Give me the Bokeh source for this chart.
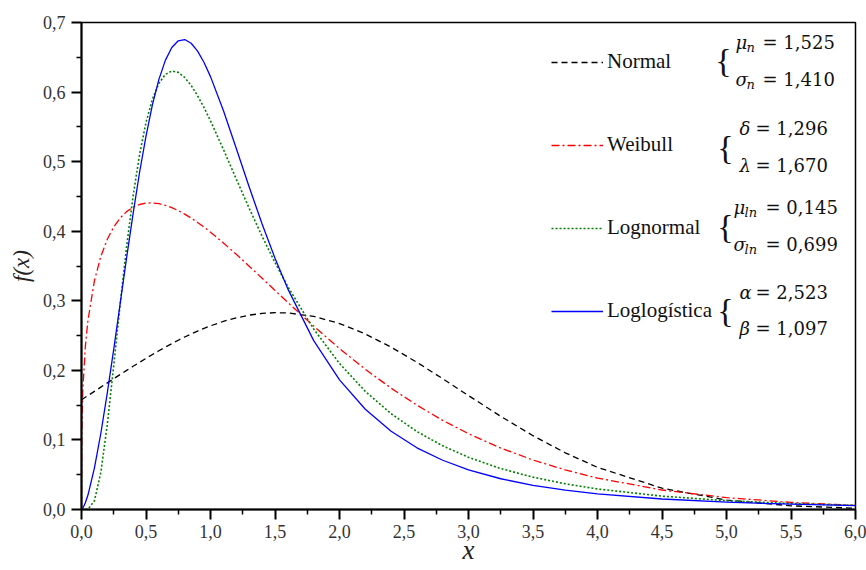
from bokeh.plotting import figure
from bokeh.models import Range1d, FixedTicker, Legend, LegendItem, Label
from bokeh.embed import file_html
from bokeh.resources import INLINE

# ---------------- data ----------------
x_vals = [0, 0.002, 0.01, 0.03, 0.05, 0.1, 0.15, 0.2,
          0.25, 0.3, 0.35, 0.4, 0.45, 0.5, 0.55, 0.6, 0.65, 0.7, 0.75, 0.8, 0.85, 0.9, 0.95,
          1.0, 1.1, 1.2, 1.3, 1.4, 1.5, 1.6,
          1.8, 2.0, 2.2, 2.4, 2.6, 2.8, 3.0,
          3.25, 3.5, 3.75, 4.0, 4.5, 5.0, 5.5, 6.0]

normal_pdf = [0.1577, 0.1579, 0.1589, 0.1613, 0.1637, 0.1698, 0.1759, 0.1820,
              0.1880, 0.1940, 0.2000, 0.2058, 0.2116, 0.2172, 0.2228, 0.2282,
              0.2334, 0.2384, 0.2433, 0.2479, 0.2523, 0.2565, 0.2604,
              0.2640, 0.2704, 0.2755, 0.2794, 0.2818, 0.2829, 0.2825,
              0.2776, 0.2673, 0.2523, 0.2334, 0.2116, 0.1880, 0.1637,
              0.1339, 0.1061, 0.0815, 0.0606, 0.0306, 0.0136, 0.0053, 0.0018]

weibull_pdf = [0.0, 0.1059, 0.1704, 0.2349, 0.2718, 0.3286, 0.3639, 0.3885,
               0.4062, 0.4190, 0.4282, 0.4345, 0.4384, 0.4404, 0.4407, 0.4396,
               0.4373, 0.4340, 0.4296, 0.4246, 0.4189, 0.4126, 0.4058,
               0.3986, 0.3832, 0.3668, 0.3497, 0.3324, 0.3149, 0.2975,
               0.2636, 0.2314, 0.2016, 0.1744, 0.1500, 0.1281, 0.1090,
               0.0883, 0.0711, 0.0569, 0.0452, 0.0280, 0.0171, 0.0102, 0.0060]

lognormal_pdf = [0.0, 0.0, 0.0, 0.0, 0.0005, 0.0124, 0.0534, 0.1223,
                 0.2071, 0.2955, 0.3785, 0.4506, 0.5100, 0.5564, 0.5900, 0.6126,
                 0.6254, 0.6302, 0.6283, 0.6210, 0.6095, 0.5947, 0.5775,
                 0.5586, 0.5176, 0.4749, 0.4329, 0.3927, 0.3550, 0.3201,
                 0.2594, 0.2099, 0.1698, 0.1377, 0.1121, 0.0915, 0.0750,
                 0.0588, 0.0465, 0.0369, 0.0295, 0.0192, 0.0127, 0.0086, 0.0059]

loglogistic_pdf = [0.0, 0.0002, 0.0018, 0.0096, 0.0208, 0.0596, 0.1096, 0.1676,
                   0.2306, 0.2963, 0.3622, 0.4254, 0.4844, 0.5368, 0.5819, 0.6183,
                   0.6456, 0.6640, 0.6737, 0.6755, 0.6702, 0.6588, 0.6425,
                   0.6222, 0.5734, 0.5190, 0.4636, 0.4104, 0.3612, 0.3168,
                   0.2427, 0.1864, 0.1441, 0.1125, 0.0887, 0.0708, 0.0571,
                   0.0442, 0.0348, 0.0277, 0.0224, 0.0151, 0.0105, 0.0076, 0.0056]

series_names = ["Normal", "Weibull", "Lognormal", "Loglogística"]

x_ticks = [0.0, 0.5, 1.0, 1.5, 2.0, 2.5, 3.0, 3.5, 4.0, 4.5, 5.0, 5.5, 6.0]
x_tick_labels = ["0,0", "0,5", "1,0", "1,5", "2,0", "2,5", "3,0", "3,5",
                 "4,0", "4,5", "5,0", "5,5", "6,0"]
x_minor_ticks = [0.25, 0.75, 1.25, 1.75, 2.25, 2.75, 3.25, 3.75, 4.25, 4.75,
                 5.25, 5.75]
y_ticks = [0.0, 0.1, 0.2, 0.3, 0.4, 0.5, 0.6, 0.7]
y_tick_labels = ["0,0", "0,1", "0,2", "0,3", "0,4", "0,5", "0,6", "0,7"]
y_minor_ticks = [0.05, 0.15, 0.25, 0.35, 0.45, 0.55, 0.65]

param_symbols = ["μ", "σ", "δ", "λ", "μ", "σ", "α", "β"]
param_subs = ["n", "n", "", "", "ln", "ln", "", ""]
param_values = ["1,525", "1,410", "1,296", "1,670", "0,145", "0,699", "2,523", "1,097"]

# ---------------- figure ----------------
p = figure(width=866, height=570, x_range=Range1d(0, 6), y_range=Range1d(0, 0.7),
           output_backend="svg", toolbar_location=None,
           min_border_left=81, min_border_right=11, min_border_top=22,
           min_border_bottom=61)
p.background_fill_color = "white"
p.border_fill_color = "white"
p.outline_line_color = "black"
p.outline_line_width = 1.5
p.grid.visible = False

SERIF = "Liberation Serif"
MATH = "DejaVu Serif"

for ax, ticks, minor, labels in ((p.xaxis[0], x_ticks, x_minor_ticks, x_tick_labels),
                                 (p.yaxis[0], y_ticks, y_minor_ticks, y_tick_labels)):
    ax.ticker = FixedTicker(ticks=ticks, minor_ticks=minor)
    ax.major_label_overrides = {t: l for t, l in zip(ticks, labels)}
    ax.axis_line_width = 2
    ax.axis_line_color = "black"
    ax.major_tick_line_width = 2
    ax.major_tick_line_color = "black"
    ax.minor_tick_line_width = 1.5
    ax.minor_tick_line_color = "black"
    ax.major_tick_out = 10
    ax.major_tick_in = 0
    ax.minor_tick_out = 5
    ax.minor_tick_in = 0
    ax.major_label_text_font = SERIF
    ax.major_label_text_font_size = "18px"
    ax.major_label_text_color = "#333333"

p.xaxis.major_label_standoff = 5
p.xaxis.axis_label = "x"
p.xaxis.axis_label_text_font = SERIF
p.xaxis.axis_label_text_font_style = "italic"
p.xaxis.axis_label_text_font_size = "27px"
p.xaxis.axis_label_text_color = "#222222"
p.xaxis.axis_label_standoff = -6

p.yaxis.major_label_standoff = 6
p.yaxis.axis_label = "f(x)"
p.yaxis.axis_label_text_font = SERIF
p.yaxis.axis_label_text_font_style = "italic"
p.yaxis.axis_label_text_font_size = "23px"
p.yaxis.axis_label_text_color = "#222222"
p.yaxis.axis_label_standoff = 6

r_norm = p.line(x_vals, normal_pdf, line_color="black", line_width=1.3,
                line_dash="6 4", line_join="round")
r_weib = p.line(x_vals, weibull_pdf, line_color="#ff0000", line_width=1.3,
                line_dash="8 3 2 3", line_join="round")
r_logn = p.line(x_vals, lognormal_pdf, line_color="#008000", line_width=1.6,
                line_dash="2 2", line_join="round")
r_logl = p.line(x_vals, loglogistic_pdf, line_color="#0000ff", line_width=1.3,
                line_join="round")

legend = Legend(items=[LegendItem(label=n, renderers=[r])
                       for n, r in zip(series_names, [r_norm, r_weib, r_logn, r_logl])],
                location=(470, 186), padding=0, margin=0, spacing=58,
                label_height=24, glyph_height=24, glyph_width=52, label_standoff=4,
                label_text_font=SERIF, label_text_font_size="21px",
                label_text_color="#111111",
                border_line_color=None, background_fill_alpha=0)
p.add_layout(legend)

# braces and parameters
brace_pos = [(642, 449), (644, 362), (644, 283), (644, 199)]
for bx, by in brace_pos:
    p.add_layout(Label(x=bx, y=by, x_units="screen", y_units="screen", text="{",
                       text_font=SERIF, text_font_size="34px", text_align="center",
                       text_baseline="middle", text_color="#111111"))

line_y = [467, 430, 381, 344, 302, 265, 217, 181]
sym_x = [654, 654, 658, 658, 652, 652, 658, 658]
eq_x = [681, 681, 674, 674, 684, 684, 674, 674]
for i in range(8):
    p.add_layout(Label(x=sym_x[i], y=line_y[i], x_units="screen", y_units="screen",
                       text=param_symbols[i], text_font=MATH, text_font_style="italic",
                       text_font_size="18px", text_baseline="middle", text_color="#111111"))
    if param_subs[i]:
        p.add_layout(Label(x=sym_x[i] + 11, y=line_y[i] - 5, x_units="screen", y_units="screen",
                           text=param_subs[i], text_font=MATH, text_font_style="italic",
                           text_font_size="13px", text_baseline="middle", text_color="#111111"))
    p.add_layout(Label(x=eq_x[i], y=line_y[i], x_units="screen", y_units="screen",
                       text="= " + param_values[i], text_font=MATH,
                       text_font_size="18px", text_baseline="middle", text_color="#111111"))

open("out.html", "w").write(file_html(p, INLINE))
